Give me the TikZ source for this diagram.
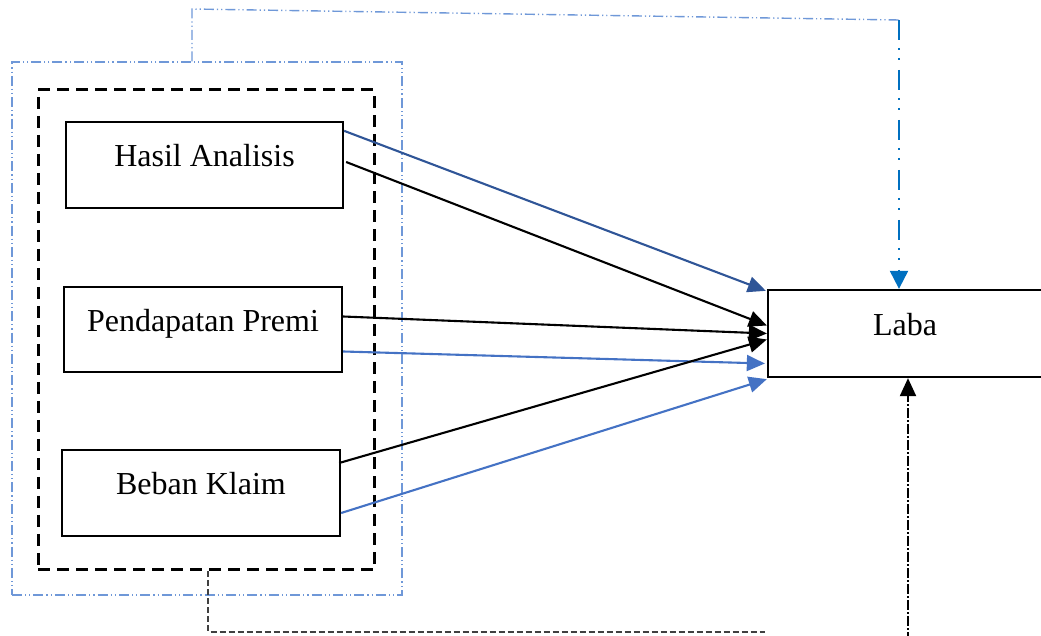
\documentclass[tikz,border=0pt]{standalone}
\usepackage{fontspec}
\setmainfont{Liberation Serif}
\usetikzlibrary{arrows.meta}
\definecolor{dblue}{HTML}{2F5597}
\definecolor{mblue}{HTML}{4472C4}
\definecolor{lblue}{HTML}{6F98D8}
\definecolor{ablue}{HTML}{0070C0}
\begin{document}
\begin{tikzpicture}[x=0.5pt,y=-0.5pt,
  box/.style={draw, line width=1.15pt, fill=white, inner sep=0pt, text height=11pt, text depth=9pt,
    font=\fontsize{16}{19}\selectfont},
  tipstyle/.style={-{Triangle[length=9pt,width=8pt]}},
  conn/.style={line width=1.05pt, tipstyle},
  framedash/.style={dash pattern=on 5pt off 1.5pt on 0.6pt off 1.5pt on 0.6pt off 1.5pt},
  groupdash/.style={dash pattern=on 6pt off 3.5pt}]
\clip (0,0) rectangle (1041,636);
\useasboundingbox (0,0) rectangle (1041,636);

% frames
\node[draw=lblue, line width=0.7pt, framedash, minimum width=195pt, minimum height=266.5pt, inner sep=0pt] (outer) at (207,328.5) {};
\node[draw, line width=1.5pt, groupdash, minimum width=168pt, minimum height=240pt, inner sep=0pt] (group) at (206,330) {};

% boxes
\node[box, minimum width=138.5pt, minimum height=43pt] (hasil) at (204.5,165) {Hasil Analisis};
\node[box, minimum width=139pt, minimum height=42.5pt] (premi) at (203,329.5) {Pendapatan Premi};
\node[box, minimum width=139pt, minimum height=43pt] (beban) at (201,493) {Beban Klaim};
\node[box, minimum width=137pt, minimum height=43.5pt] (laba) at (905,333.5) {Laba};

% arrows to Laba
\draw[conn, dblue] ([yshift=-5pt]hasil.north east) -- ([xshift=-0.5pt,yshift=-1pt]laba.north west);
\draw[conn] ([xshift=1pt,yshift=1.5pt]hasil.east) -- ([yshift=4pt]laba.west);
\draw[conn] ([yshift=6.5pt]premi.east) -- (laba.west);
\draw[conn, mblue] ([yshift=-11pt]premi.east) -- ([xshift=-1pt,yshift=-15pt]laba.west);
\draw[conn] ([xshift=-1pt,yshift=15pt]beban.east) -- ([yshift=-3pt]laba.west);
\draw[conn, mblue] ([yshift=-10pt]beban.east) -- ([yshift=-0.5pt]laba.south west);

% top tab and blue arrow
\coordinate (t1) at (192,9);
\coordinate (t2) at (899,20);
\draw[lblue, line width=0.7pt, framedash] ([xshift=-7.5pt]outer.north) -- (t1) -- (t2);
\draw[ablue, line width=1.1pt, dash pattern=on 10pt off 4pt on 1pt off 4pt on 1pt off 5pt,
  -{Triangle[length=9pt,width=9pt]}] (t2) -- ([xshift=-3pt]laba.north);

% bottom path and black arrow
\coordinate (b1) at (765,632);
\coordinate (b2) at (908,642);
\draw[black!75, line width=0.6pt, dash pattern=on 3pt off 1.5pt] ([xshift=1pt]group.south) |- (b1);
\draw[line width=1.1pt, dash pattern=on 5pt off 1pt on 1pt off 1pt, tipstyle] (b2) -- ([xshift=1.5pt]laba.south);
\end{tikzpicture}
\end{document}
